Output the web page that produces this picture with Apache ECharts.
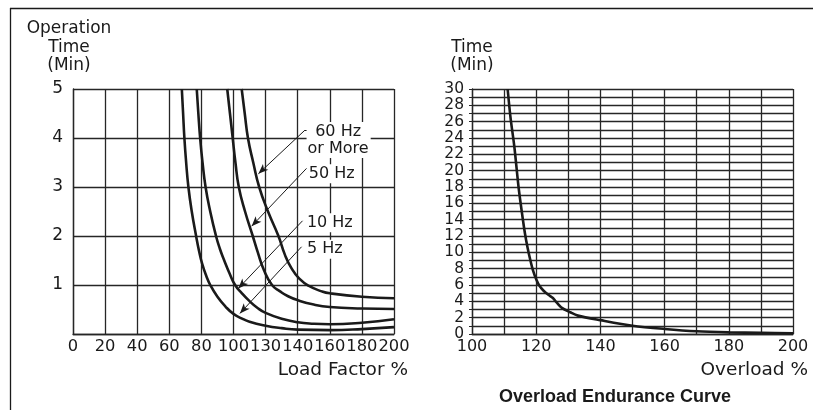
<!DOCTYPE html>
<html>
<head>
<meta charset="utf-8">
<style>
html,body{margin:0;padding:0;background:#fff;}
#chart{width:813px;height:410px;}
</style>
<script src="https://cdn.jsdelivr.net/npm/echarts@6/dist/echarts.min.js"></script>
</head>
<body>
<div id="chart"></div>
<script>
// ---- Left chart: Operation time vs load factor ----
const loadTickLabels = ['0','20','40','60','80','100','130','140','160','180','200'];
const curve5Hz  = [[67.8,5],[68.6,4.5],[69.4,4],[70.5,3.5],[71.9,3],[74,2.5],[76.7,2],[78.5,1.7],[80.5,1.43],[83,1.19],[85.5,1.0],[90,0.76],[95,0.56],[100,0.41],[105,0.32],[110,0.25],[120,0.17],[130,0.12],[140,0.09],[160,0.08],[180,0.1],[200,0.14]];
const curve10Hz = [[77.1,5],[78.1,4.5],[79.2,4],[80.7,3.5],[82.6,3],[85.5,2.5],[89.1,2],[91.5,1.74],[94,1.52],[97.5,1.24],[101,1.0],[105,0.84],[110,0.67],[115,0.53],[120,0.43],[130,0.31],[140,0.24],[150,0.21],[160,0.2],[180,0.23],[200,0.3]];
const curve50Hz = [[96.1,5],[97.8,4.5],[99.5,4],[101.2,3.5],[103.3,3],[107.2,2.5],[112,2],[115,1.68],[119,1.3],[124,1.0],[129,0.87],[134,0.77],[140,0.69],[150,0.6],[160,0.55],[180,0.52],[200,0.51]];
const curve60Hz = [[105.1,5],[107,4.5],[109,4],[112.3,3.5],[116,3],[121.5,2.5],[128,2],[132,1.62],[136,1.35],[141,1.13],[147,0.98],[155,0.87],[160,0.83],[180,0.76],[200,0.73]];
// annotation labels: [x, y, text, align]
const freqLabels = [[165.5,3.96,'60 Hz\nor More','center'],[146.3,3.27,'50 Hz','left'],[145.1,2.27,'10 Hz','left'],[145.1,1.73,'5 Hz','left']];
// arrow leaders: [from, to]
const freqArrows = [[[144.5,4.16],[115.5,3.27]],[[145.5,3.38],[111.3,2.2]],[[143.0,2.31],[103.0,0.93]],[[142.4,1.78],[104.0,0.42]]];
const arrowStubs = [[[144.5,4.16],[148.2,4.16]]];

// ---- Right chart: Overload endurance ----
const overloadCurve = [[111.1,30],[112,26.5],[113.2,22.9],[114.5,18],[115.5,15],[116.5,12.3],[117.3,10.6],[118.2,9],[119,7.8],[120.1,6.6],[121,5.9],[122.3,5.3],[123.8,4.8],[125.2,4.4],[126.5,3.8],[128,3.2],[130.6,2.66],[133,2.25],[140,1.7],[150,1.02],[160,0.62],[170,0.33],[180,0.2],[190,0.14],[200,0.1]];

const FONT = 'DejaVu Sans';
const INK = '#1a1a1a';
const GRIDC = '#262626';

const chart = echarts.init(document.getElementById('chart'), null, {renderer:'canvas'});

const curveStyle = {color: INK, width: 2.6};

function curveSeries(name, data){
  return {name, type:'line', xAxisIndex:0, yAxisIndex:0, data, smooth:0.5,
    showSymbol:false, symbol:'none', lineStyle:curveStyle, z:5, silent:true};
}

const annot = {
  name:'annot', type:'line', xAxisIndex:0, yAxisIndex:0, data:[], silent:true, z:6,
  markLine:{
    silent:true, animation:false, precision:3,
    symbol:['none','arrow'], symbolSize:[6,10],
    lineStyle:{color:INK, width:1, type:'solid'},
    label:{show:false},
    data: freqArrows.map(a => [{coord:a[0]},{coord:a[1]}]).concat(
      arrowStubs.map(a => [{coord:a[0], symbol:'none'},{coord:a[1], symbol:'none'}]))
  },
  markPoint:{
    silent:true, animation:false,
    symbol:'circle', symbolSize:0,
    data: freqLabels.map(l => ({coord:[l[0],l[1]], value:l[2],
      label:{show:true, position:'inside', formatter:l[2], align:l[3], verticalAlign:'middle',
        color:INK, fontFamily:FONT, fontSize:16, lineHeight:17, backgroundColor:'#fff', padding:[1,2,1,1]}}))
  }
};

const option = {
  animation:false,
  backgroundColor:'#fff',
  textStyle:{fontFamily:FONT},
  grid:[
    {left:73, top:89, width:321, height:245, outerBoundsMode:'none', containLabel:false},
    {left:472, top:89, width:321, height:245, outerBoundsMode:'none', containLabel:false}
  ],
  xAxis:[
    {gridIndex:0, type:'value', min:0, max:200, interval:20,
     name:'Load Factor %', nameLocation:'end', nameGap:14, nameMoveOverlap:false,
     nameTextStyle:{color:INK, fontFamily:FONT, fontSize:18.5, align:'right', verticalAlign:'top', lineHeight:18, padding:[27,0,0,0]},
     axisLine:{show:true, onZero:false, lineStyle:{color:GRIDC, width:1.3}},
     axisTick:{show:false},
     splitLine:{show:true, lineStyle:{color:GRIDC, width:1.3}},
     axisLabel:{color:INK, fontFamily:FONT, fontSize:16.3, margin:5, showMaxLabel:true, showMinLabel:true, hideOverlap:false,
       formatter:v => loadTickLabels[Math.round(v/20)]}},
    {gridIndex:1, type:'value', min:100, max:200, interval:10,
     name:'Overload %', nameLocation:'end', nameGap:15, nameMoveOverlap:false,
     nameTextStyle:{color:INK, fontFamily:FONT, fontSize:18.5, align:'right', verticalAlign:'top', lineHeight:18, padding:[27,0,0,0]},
     axisLine:{show:true, onZero:false, lineStyle:{color:GRIDC, width:1.3}},
     axisTick:{show:false},
     splitLine:{show:true, lineStyle:{color:GRIDC, width:1.3}},
     axisLabel:{color:INK, fontFamily:FONT, fontSize:16, margin:5, showMaxLabel:true, showMinLabel:true, hideOverlap:false,
       formatter:v => (v % 20 === 0 ? String(v) : '')}}
  ],
  yAxis:[
    {gridIndex:0, type:'value', min:0, max:5, interval:1,
     name:'Operation\nTime\n(Min)', nameLocation:'end', nameGap:14,
     nameTextStyle:{color:INK, fontFamily:FONT, fontSize:17, align:'center', lineHeight:18.5, padding:[0,8,0,0]},
     axisLine:{show:true, onZero:false, lineStyle:{color:GRIDC, width:1.3}},
     axisTick:{show:false},
     splitLine:{show:true, lineStyle:{color:GRIDC, width:1.3}},
     axisLabel:{color:INK, fontFamily:FONT, fontSize:17, margin:10,
       formatter:v => (v === 0 ? '' : String(v))}},
    {gridIndex:1, type:'value', min:0, max:30, interval:1,
     name:'Time\n(Min)', nameLocation:'end', nameGap:14,
     nameTextStyle:{color:INK, fontFamily:FONT, fontSize:17, align:'center', lineHeight:18.5},
     axisLine:{show:true, onZero:false, lineStyle:{color:GRIDC, width:1.3}},
     axisTick:{show:true, length:3, inside:false, lineStyle:{color:GRIDC, width:1}},
     splitLine:{show:true, lineStyle:{color:GRIDC, width:1.3}},
     axisLabel:{color:INK, fontFamily:FONT, fontSize:15.5, margin:8, lineHeight:15,
       formatter:v => (v % 2 === 0 ? String(v) : '')}}
  ],
  graphic:[
    {type:'line', shape:{x1:10, y1:8.5, x2:813, y2:8.5}, style:{stroke:INK, lineWidth:1.3}, silent:true},
    {type:'line', shape:{x1:10.5, y1:8, x2:10.5, y2:410}, style:{stroke:INK, lineWidth:1.3}, silent:true},
    {type:'text', x:615, y:397, silent:true,
     style:{text:'Overload Endurance Curve', fill:INK, font:'bold 18px "Liberation Sans", Arial, sans-serif', textAlign:'center', textVerticalAlign:'middle'}}
  ],
  series:[
    curveSeries('5 Hz', curve5Hz),
    curveSeries('10 Hz', curve10Hz),
    curveSeries('50 Hz', curve50Hz),
    curveSeries('60 Hz or More', curve60Hz),
    annot,
    {name:'Overload', type:'line', xAxisIndex:1, yAxisIndex:1, data:overloadCurve, smooth:0.3,
     showSymbol:false, symbol:'none', lineStyle:{color:INK, width:2.6}, z:5, silent:true}
  ]
};
chart.setOption(option);
</script>
</body>
</html>
